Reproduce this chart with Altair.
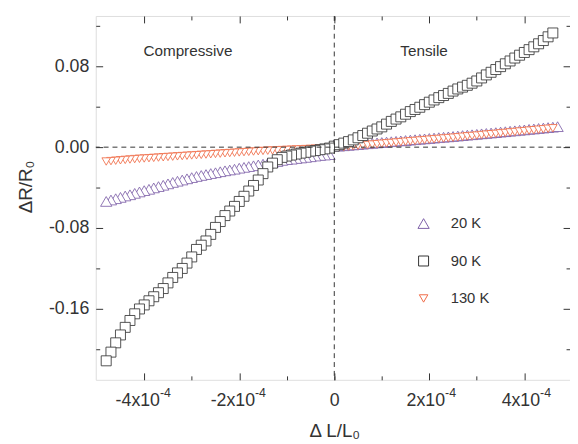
import altair as alt
import pandas as pd

# ---------------- data (strain in units of 1e-4, dR/R0 raw) ----------------
series = ["20 K", "90 K", "130 K"]
colors = ["#7d5fa8", "#333333", "#f06a46"]
shapes = ["triangle-up", "square", "triangle-down"]
sizes = [130, 75, 130]

strain_neg = [-0.1, -0.2, -0.3, -0.4, -0.5, -0.6, -0.7, -0.8, -0.9, -1.0,
              -1.1, -1.2, -1.3, -1.4, -1.5, -1.6, -1.7, -1.8, -1.9, -2.0,
              -2.1, -2.2, -2.3, -2.4, -2.5, -2.6, -2.7, -2.8, -2.9, -3.0,
              -3.1, -3.2, -3.3, -3.4, -3.5, -3.6, -3.7, -3.8, -3.9, -4.0,
              -4.1, -4.2, -4.3, -4.4, -4.5, -4.6, -4.7, -4.8]
strain_pos = [0.0, 0.1, 0.2, 0.3, 0.4, 0.5, 0.6, 0.7, 0.8, 0.9,
              1.0, 1.1, 1.2, 1.3, 1.4, 1.5, 1.6, 1.7, 1.8, 1.9,
              2.0, 2.1, 2.2, 2.3, 2.4, 2.5, 2.6, 2.7, 2.8, 2.9,
              3.0, 3.1, 3.2, 3.3, 3.4, 3.5, 3.6, 3.7, 3.8, 3.9,
              4.0, 4.1, 4.2, 4.3, 4.4, 4.5, 4.6, 4.7]

k20_neg = [-0.0074, -0.0078, -0.0082, -0.0088, -0.0095, -0.0101, -0.0107, -0.0112, -0.0119, -0.0123,
           -0.0131, -0.0142, -0.0151, -0.0159, -0.0168, -0.0176, -0.0184, -0.0192, -0.0200, -0.0208,
           -0.0218, -0.0226, -0.0234, -0.0243, -0.0253, -0.0261, -0.0271, -0.0280, -0.0290, -0.0301,
           -0.0313, -0.0325, -0.0337, -0.0349, -0.0363, -0.0377, -0.0390, -0.0403, -0.0417, -0.0430,
           -0.0443, -0.0457, -0.0471, -0.0483, -0.0497, -0.0510, -0.0523, -0.0537]
k20_pos = [0.0025, 0.0010, 0.0014, 0.0018, 0.0022, 0.0026, 0.0030, 0.0034, 0.0038, 0.0042,
           0.0046, 0.0050, 0.0054, 0.0058, 0.0062, 0.0066, 0.0070, 0.0074, 0.0078, 0.0082,
           0.0086, 0.0090, 0.0094, 0.0098, 0.0102, 0.0106, 0.0110, 0.0115, 0.0119, 0.0123,
           0.0127, 0.0132, 0.0136, 0.0140, 0.0144, 0.0149, 0.0153, 0.0158, 0.0162, 0.0167,
           0.0171, 0.0176, 0.0180, 0.0185, 0.0189, 0.0194, 0.0198, 0.0203]

k90_neg = [-0.0009, -0.0017, -0.0025, -0.0034, -0.0039, -0.0051, -0.0059, -0.0068, -0.0078, -0.0088,
           -0.0101, -0.0124, -0.0158, -0.0196, -0.0262, -0.0325, -0.0379, -0.0434, -0.0486, -0.0537,
           -0.0586, -0.0632, -0.0677, -0.0736, -0.0794, -0.0863, -0.0928, -0.0970, -0.1012, -0.1086,
           -0.1147, -0.1200, -0.1244, -0.1289, -0.1343, -0.1399, -0.1440, -0.1480, -0.1520, -0.1561,
           -0.1601, -0.1649, -0.1715, -0.1783, -0.1858, -0.1936, -0.2028, -0.2114]
k90_pos = [0.0010, 0.0025, 0.0040, 0.0055, 0.0072, 0.0093, 0.0115, 0.0138, 0.0160, 0.0180,
           0.0201, 0.0228, 0.0255, 0.0278, 0.0300, 0.0326, 0.0352, 0.0373, 0.0395, 0.0421,
           0.0445, 0.0467, 0.0490, 0.0511, 0.0532, 0.0555, 0.0576, 0.0594, 0.0612, 0.0633,
           0.0655, 0.0685, 0.0715, 0.0741, 0.0768, 0.0797, 0.0825, 0.0853, 0.0882, 0.0910,
           0.0937, 0.0965, 0.0993, 0.1023, 0.1055, 0.1092, 0.1130]

k130_neg = [-0.0009, -0.0011, -0.0013, -0.0015, -0.0017, -0.0019, -0.0021, -0.0023, -0.0025, -0.0027,
            -0.0029, -0.0031, -0.0033, -0.0035, -0.0037, -0.0040, -0.0043, -0.0046, -0.0049, -0.0052,
            -0.0055, -0.0058, -0.0061, -0.0064, -0.0067, -0.0070, -0.0073, -0.0076, -0.0079, -0.0082,
            -0.0085, -0.0088, -0.0091, -0.0094, -0.0097, -0.0100, -0.0103, -0.0106, -0.0109, -0.0112,
            -0.0115, -0.0118, -0.0122, -0.0126, -0.0130, -0.0134, -0.0138, -0.0142]
k130_pos = [-0.0006, -0.0002, 0.0002, 0.0006, 0.0010, 0.0014, 0.0018, 0.0022, 0.0026, 0.0030,
            0.0034, 0.0038, 0.0042, 0.0046, 0.0050, 0.0054, 0.0058, 0.0062, 0.0066, 0.0070,
            0.0074, 0.0078, 0.0082, 0.0086, 0.0090, 0.0094, 0.0098, 0.0103, 0.0107, 0.0111,
            0.0115, 0.0120, 0.0124, 0.0128, 0.0132, 0.0137, 0.0141, 0.0146, 0.0150, 0.0155,
            0.0159, 0.0164, 0.0168, 0.0173, 0.0177, 0.0182, 0.0187]

x_major = [-4, -2, 0, 2, 4]
x_exp = [-4, -2, 2, 4]
x_minor = [-3, -1, 0, 1, 3]
y_major = [-0.16, -0.08, 0.0, 0.08]
y_minor = [-0.20, -0.12, -0.04, 0.04, 0.12]

# ---------------- table (drawn from 0 outward, 20 K then 130 K then 90 K) ----------------
rows = []
for name, parts in [("20 K", [(strain_pos, k20_pos), (strain_neg, k20_neg)]),
                    ("130 K", [(strain_pos, k130_pos), (strain_neg, k130_neg)]),
                    ("90 K", [(strain_pos, k90_pos), (strain_neg, k90_neg)])]:
    for xs_, ys_ in parts:
        for xv, yv in zip(xs_, ys_):
            rows.append({"T": name, "strain": xv, "dR": yv})
df = pd.DataFrame(rows)

FONT = "Liberation Sans"
INK = "#333333"
TICK = "#333333"

xs = alt.Scale(domain=[-5.02, 4.961], nice=False, zero=False)
ys = alt.Scale(domain=[-0.2302, 0.1298], nice=False, zero=False)


def ax(orient, values, size, **kw):
    base = dict(orient=orient, values=values, tickSize=size, offset=-size, domain=False,
                grid=False, tickColor=TICK, tickWidth=1, ticks=True, labelFlush=False)
    base.update(kw)
    if "labels" not in kw:
        base["labels"] = False
    if "title" not in kw:
        base["title"] = None
    return alt.Axis(**base)


legend = alt.Legend(title=None, orient="none", legendX=325, legendY=203,
                    labelFontSize=15, labelFont=FONT, labelColor=INK,
                    symbolSize=100, symbolStrokeWidth=1, rowPadding=22,
                    labelOffset=20, padding=0, symbolFillColor="white")

x_main = ax("bottom", x_major, 7, labels=True, labelFontSize=18, labelFont=FONT,
            labelColor=INK, labelPadding=26, labelBaseline="alphabetic",
            labelAlign="right", labelOffset=15.5,
            labelExpr="datum.value == 0 ? '' : (datum.value < 0 ? '-' : '') + abs(datum.value) + 'x10'",
            title="Δ L/L₀", titleFontSize=19, titleFont=FONT, titleColor=INK,
            titleFontWeight="normal", titleX=242, titleY=65, titleBaseline="alphabetic",
            titleAlign="center")
x_minor_ax = ax("bottom", x_minor, 4, labels=True, labelFontSize=18, labelFont=FONT,
                labelColor=INK, labelPadding=26, labelBaseline="alphabetic",
                labelAlign="center", labelExpr="datum.value == 0 ? '0' : ''")
x_sup = alt.Axis(orient="bottom", values=x_exp, ticks=False, tickSize=0, offset=0,
                 domain=False, grid=False, labels=True, labelFlush=False,
                 labelExpr="'-4'", labelFontSize=12.5, labelFont=FONT, labelColor=INK,
                 labelAlign="left", labelOffset=15.5, labelBaseline="alphabetic",
                 labelPadding=17, title=None)
y_main = ax("left", y_major, 7, labels=True, labelFontSize=18, labelFont=FONT,
            labelColor=INK, labelPadding=7,
            labelExpr="(datum.value < 0 ? '-' : '') + format(abs(datum.value), '.2f')",
            title="ΔR/R₀", titleFontSize=19, titleFont=FONT, titleColor=INK,
            titleFontWeight="normal", titleX=-78, titleY=173, titleAngle=270,
            titleBaseline="middle", titleAlign="center")

points = alt.Chart(df).mark_point(filled=False, fill="white", strokeWidth=0.85,
                                  opacity=1).encode(
    x=alt.X("strain:Q", scale=xs, axis=x_main),
    y=alt.Y("dR:Q", scale=ys, axis=y_main),
    color=alt.Color("T:N", scale=alt.Scale(domain=series, range=colors), legend=legend),
    shape=alt.Shape("T:N", scale=alt.Scale(domain=series, range=shapes), legend=legend),
    size=alt.Size("T:N", scale=alt.Scale(domain=series, range=sizes), legend=None),
)

hline = alt.Chart().mark_rule(strokeDash=[5, 4], color=INK, strokeWidth=1).encode(
    y=alt.YDatum(0, scale=ys, axis=ax("left", y_minor, 4)))
vline = alt.Chart().mark_rule(strokeDash=[5, 4], color=INK, strokeWidth=1).encode(
    x=alt.XDatum(0, scale=xs, axis=x_minor_ax))
sup = alt.Chart().mark_rule(strokeOpacity=0).encode(
    x=alt.XDatum(0, scale=xs, axis=x_sup))

t_comp = alt.Chart().mark_text(text="Compressive", font=FONT, fontSize=15.5, color=INK,
                               align="center", baseline="middle").encode(
    x=alt.XDatum(-3.08, scale=xs, axis=ax("top", x_major, 7)),
    y=alt.YDatum(0.095, scale=ys, axis=ax("right", y_major, 7)))
t_tens = alt.Chart().mark_text(text="Tensile", font=FONT, fontSize=15.5, color=INK,
                               align="center", baseline="middle").encode(
    x=alt.XDatum(1.89, scale=xs, axis=ax("top", x_minor, 4)),
    y=alt.YDatum(0.095, scale=ys, axis=ax("right", y_minor, 4)))

chart = alt.layer(points, hline, vline, sup, t_comp, t_tens).resolve_axis(
    x="independent", y="independent"
).properties(
    width=481, height=369,
    padding={"left": 89, "top": 5, "right": 0, "bottom": 62},
    autosize=alt.AutoSizeParams(type="none"),
).configure_view(stroke=INK, strokeWidth=1).configure(font=FONT, background="white")

chart.save("out.html", embed_options={"renderer": "svg", "actions": False})
